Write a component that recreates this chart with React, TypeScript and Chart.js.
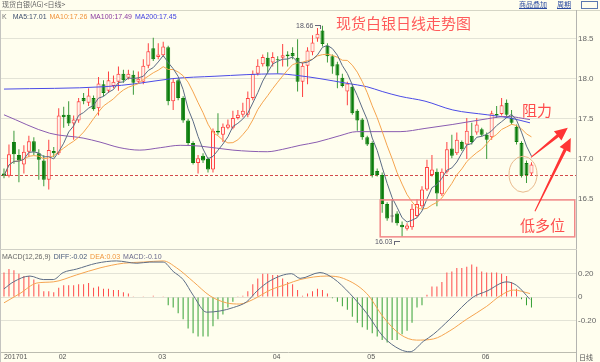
import React, { useEffect, useRef } from "react";
import { Chart, registerables } from "chart.js";

Chart.register(...registerables);

// ---------------- data (daily candles, spot silver) ----------------
const opens = [16.82,16.79,17.21,17.05,16.93,17.09,17.22,17.07,16.98,16.74,
 17.10,17.07,17.55,17.55,17.44,17.48,17.76,17.70,17.76,17.63,
 17.93,17.85,17.91,17.96,18.06,18.01,18.05,17.96,17.96,18.16,
 18.38,18.27,18.29,18.39,17.72,17.98,17.76,17.48,17.20,16.95,
 17.04,17.00,16.87,17.35,17.30,17.39,17.39,17.51,17.55,17.55,
 17.76,18.06,18.18,18.26,18.20,18.24,18.26,18.30,18.32,18.26,
 17.96,18.16,18.33,18.50,18.60,18.41,18.28,18.18,18.01,17.84,
 17.90,17.60,17.49,17.27,17.20,16.85,16.80,16.44,16.29,16.32,
 16.18,16.13,16.15,16.29,16.41,16.62,16.80,16.84,16.56,16.84,
 17.13,17.07,17.21,17.18,17.29,17.33,17.37,17.30,17.27,17.56,
 17.56,17.70,17.51,17.40,17.20,16.95,16.82];
const highs = [16.88,17.18,17.35,17.12,17.17,17.29,17.27,17.12,17.05,17.24,
 17.15,17.63,17.65,17.72,17.54,17.76,17.82,17.88,17.79,18.02,
 17.98,18.09,18.04,18.15,18.11,18.11,18.10,18.09,18.24,18.44,
 18.51,18.44,18.46,18.41,18.00,18.00,17.78,17.50,17.22,17.05,
 17.07,17.02,17.38,17.57,17.44,17.49,17.60,17.61,17.70,17.84,
 18.10,18.24,18.30,18.33,18.33,18.28,18.43,18.34,18.39,18.49,
 18.20,18.39,18.54,18.63,18.66,18.44,18.30,18.21,18.06,17.96,
 17.93,17.62,17.51,17.29,17.22,16.88,16.83,16.46,16.50,16.35,
 16.22,16.20,16.44,16.50,16.66,16.99,17.05,16.88,16.88,17.21,
 17.30,17.33,17.23,17.51,17.45,17.51,17.39,17.33,17.60,17.66,
 17.76,17.74,17.61,17.43,17.22,16.98,16.96];
const lows = [16.76,16.77,16.94,16.71,16.82,17.02,17.05,16.74,16.66,16.62,
 17.02,17.05,17.39,17.41,17.24,17.45,17.68,17.66,17.60,17.54,
 17.78,17.82,17.88,17.85,17.95,17.99,17.80,17.94,17.93,18.13,
 18.22,18.24,18.27,17.67,17.61,17.73,17.45,17.17,16.93,16.82,
 16.95,16.83,16.83,17.30,17.21,17.37,17.37,17.49,17.52,17.52,
 17.73,18.04,18.15,18.06,18.15,18.06,18.15,18.15,18.24,17.84,
 17.77,17.93,18.29,18.46,18.40,18.20,18.06,17.88,17.89,17.67,
 17.55,17.35,17.24,17.16,16.77,16.78,16.33,16.23,16.21,16.17,
 16.03,16.11,16.12,16.27,16.39,16.60,16.78,16.41,16.54,16.82,
 17.01,17.05,17.10,17.00,17.18,17.30,17.28,17.00,17.24,17.51,
 17.54,17.52,17.43,17.18,16.77,16.70,16.79];
const closes = [16.79,17.06,17.06,16.98,17.09,17.22,17.09,16.99,16.74,17.11,
 17.07,17.54,17.52,17.44,17.49,17.72,17.72,17.79,17.62,17.94,
 17.82,17.98,17.96,18.06,17.98,18.06,17.95,18.00,18.16,18.34,
 18.24,18.30,18.40,17.72,17.96,17.76,17.48,17.20,16.95,17.01,
 16.98,16.87,17.35,17.33,17.40,17.43,17.51,17.55,17.60,17.76,
 18.06,18.16,18.27,18.15,18.27,18.23,18.29,18.28,18.28,17.96,
 18.16,18.35,18.45,18.56,18.43,18.28,18.15,18.04,17.91,17.94,
 17.57,17.48,17.27,17.18,16.80,16.80,16.44,16.26,16.29,16.20,
 16.15,16.17,16.38,16.44,16.62,16.90,16.87,16.57,16.84,17.12,
 17.04,17.24,17.12,17.35,17.21,17.43,17.30,17.24,17.57,17.54,
 17.67,17.55,17.45,17.21,16.79,16.80,16.93];

// long moving averages (candle index, value)
const ma100Index = [0, 9.2, 15.9, 19.3, 23.3, 27.3, 31.4, 35.4, 39.4, 46, 52.9, 56, 59.5, 62.9, 67.5, 70.9, 79.6, 84.6, 90.2, 97.1, 101.1, 105.7];
const ma100Value = [17.55, 17.32, 17.26, 17.21, 17.14, 17.11, 17.14, 17.17, 17.16, 17.11, 17.09, 17.12, 17.17, 17.21, 17.29, 17.34, 17.34, 17.38, 17.43, 17.50, 17.53, 17.49];
const ma200Index = [0, 20.3, 26.9, 33.8, 42.4, 54.9, 58.9, 63.5, 69.1, 72.9, 76, 79.6, 84.6, 90.2, 97.1, 101.7, 105.7];
const ma200Value = [17.87, 17.90, 17.94, 18.00, 18.03, 18.06, 18.04, 18.00, 17.94, 17.90, 17.84, 17.78, 17.72, 17.61, 17.55, 17.51, 17.45];

// MACD(12,26,9)
const macdHist = [0.21,0.24,0.23,0.20,0.18,0.18,0.15,0.11,0.05,0.05,
 0.04,0.08,0.10,0.10,0.10,0.11,0.11,0.12,0.08,0.09,
 0.07,0.07,0.06,0.06,0.04,0.03,0.002,-0.005,0.002,0.005,
 0.01,0.005,0.003,-0.07,-0.09,-0.14,-0.19,-0.27,-0.31,-0.34,
 -0.34,-0.34,-0.25,-0.19,-0.15,-0.09,-0.04,0.002,0.01,0.05,
 0.11,0.16,0.20,0.20,0.19,0.19,0.16,0.13,0.11,0.06,
 0.01,0.03,0.05,0.07,0.06,0.03,-0.01,-0.04,-0.08,-0.11,
 -0.17,-0.22,-0.26,-0.28,-0.31,-0.34,-0.37,-0.39,-0.37,-0.37,
 -0.32,-0.29,-0.22,-0.09,-0.07,0.02,0.09,0.09,0.13,0.21,
 0.22,0.25,0.25,0.26,0.28,0.26,0.22,0.21,0.21,0.21,
 0.20,0.18,0.13,0.07,-0.02,-0.07,-0.09];
const diffIndex = [0, 1.9, 5.2, 7.9, 9.9, 11.9, 14.6, 18.6, 22.6, 26.7, 29.3, 32.0, 34.0, 36.0, 38.1, 40.7, 43.4, 46.1, 48.8, 50.8, 53.5, 57.8, 59.5, 63.5, 66.2, 69.5, 72.9, 76.2, 79.6, 81.6, 84.3, 86.3, 89.6, 94.3, 97.0, 101.0, 103.0, 105.7];
const diffValue = [0.07, 0.13, 0.18, 0.15, 0.15, 0.21, 0.24, 0.29, 0.31, 0.29, 0.30, 0.30, 0.22, 0.15, 0.01, -0.13, -0.12, -0.09, -0.04, 0.05, 0.14, 0.20, 0.16, 0.21, 0.16, 0.03, -0.14, -0.34, -0.45, -0.47, -0.38, -0.32, -0.19, 0.00, 0.05, 0.13, 0.10, -0.02];
const deaIndex = [0, 3.2, 6.6, 9.9, 14.6, 19.3, 24.0, 28.0, 32.0, 34.7, 38.1, 41.4, 44.7, 47.4, 50.1, 53.5, 56.8, 59.5, 64.9, 68.2, 72.9, 76.2, 79.6, 82.9, 86.3, 89.6, 93.0, 97.0, 99.7, 102.4, 105.7];
const deaValue = [-0.05, 0.03, 0.12, 0.13, 0.19, 0.25, 0.29, 0.30, 0.31, 0.25, 0.13, 0.01, -0.05, -0.06, -0.02, 0.06, 0.11, 0.15, 0.18, 0.16, 0.03, -0.17, -0.32, -0.37, -0.36, -0.29, -0.19, -0.08, 0.01, 0.06, 0.03];

// axis ticks
const monthTickIndex = [0, 11, 31, 54, 73, 96];
const monthTickLabels = ["201701", "02", "03", "04", "05", "06"];
const priceTicks = [16.5, 17, 17.5, 18, 18.5];
const macdTicks = [-0.2, 0, 0.2];

// annotation levels (data space)
const supportLevel = 16.8;
const zoneBox = { x0: 75.6, x1: 114.7, low: 16.03, high: 16.49 };
const circleCenter = { x: 104.3, y: 16.81 };
const arrowList = [
  { x0: 105.9, y0: 17.02, x1: 113.3, y1: 17.39 },
  { x0: 106.7, y0: 16.35, x1: 113.9, y1: 17.26 },
];

// ---------------- styles ----------------
const BG = "#fffeee";
const GRID = "#e3e3d6";
const UP = "#ff4040";
const UP_FILL = "#fff3ea";
const DOWN = "#0b7d0b";
const DOWN_WICK = "#3a9a3a";
const DOJI = "#444444";
const C_MA5 = "#5b6b84";
const C_MA10 = "#f5a44e";
const C_MA100 = "#8a5cb0";
const C_MA200 = "#4b4be6";
const LATIN = '"Liberation Sans", Arial, sans-serif';
const CJK = '"Noto Sans CJK SC", "Liberation Sans", sans-serif';
const X_MIN = -0.8;
const X_MAX = 114.95;

const idx = closes.map((_, i) => i);
function sma(period: number) {
  return closes.map((_, i) => {
    const w = closes.slice(Math.max(0, i - period + 1), i + 1);
    return w.reduce((a, b) => a + b, 0) / w.length;
  });
}
const ma5 = sma(5);
const ma10 = sma(10);

function drawArrow(ctx: CanvasRenderingContext2D, x0: number, y0: number, x1: number, y1: number) {
  const len = Math.hypot(x1 - x0, y1 - y0);
  const ux = (x1 - x0) / len, uy = (y1 - y0) / len;
  const nx = -uy, ny = ux;
  const head = 13, hw = 6;
  const bx = x1 - ux * head, by = y1 - uy * head;
  ctx.beginPath();
  ctx.moveTo(x0 + nx * 0.5, y0 + ny * 0.5);
  ctx.lineTo(bx + nx * 1.6, by + ny * 1.6);
  ctx.lineTo(bx + nx * hw, by + ny * hw);
  ctx.lineTo(x1, y1);
  ctx.lineTo(bx - nx * hw, by - ny * hw);
  ctx.lineTo(bx - nx * 1.6, by - ny * 1.6);
  ctx.lineTo(x0 - nx * 0.5, y0 - ny * 0.5);
  ctx.closePath();
  ctx.fill();
}

const annotationPlugin = {
  id: "annotations",
  beforeDatasetsDraw(chart: any) {
    const { ctx, chartArea, scales } = chart;
    const yy = Math.round(scales.y.getPixelForValue(supportLevel)) + 0.5;
    ctx.save();
    ctx.strokeStyle = "#d24b4b";
    ctx.lineWidth = 1;
    ctx.setLineDash([3, 2]);
    ctx.beginPath();
    ctx.moveTo(chartArea.left, yy);
    ctx.lineTo(chartArea.right, yy);
    ctx.stroke();
    ctx.restore();
  },
  afterDatasetsDraw(chart: any) {
    const { ctx, scales } = chart;
    const x = scales.x, y = scales.y;
    ctx.save();
    const bx0 = x.getPixelForValue(zoneBox.x0), bx1 = x.getPixelForValue(zoneBox.x1);
    const by0 = y.getPixelForValue(zoneBox.high), by1 = y.getPixelForValue(zoneBox.low);
    ctx.strokeStyle = "#f28888";
    ctx.lineWidth = 1.5;
    ctx.strokeRect(bx0, by0, bx1 - bx0, by1 - by0);
    ctx.strokeStyle = "#e8b98c";
    ctx.lineWidth = 1;
    ctx.beginPath();
    ctx.ellipse(x.getPixelForValue(circleCenter.x), y.getPixelForValue(circleCenter.y), 14, 18, 0, 0, Math.PI * 2);
    ctx.stroke();
    ctx.fillStyle = "#ff3434";
    arrowList.forEach((a) => {
      drawArrow(ctx, x.getPixelForValue(a.x0), y.getPixelForValue(a.y0), x.getPixelForValue(a.x1), y.getPixelForValue(a.y1));
    });
    ctx.restore();
  },
};

export default function App() {
  const mainRef = useRef<HTMLCanvasElement>(null);
  const macdRef = useRef<HTMLCanvasElement>(null);

  useEffect(() => {
    document.body.style.margin = "0";
    const up = (i: number) => closes[i] > opens[i];
    const down = (i: number) => closes[i] < opens[i];

    const main = new Chart(mainRef.current as HTMLCanvasElement, {
      type: "bar",
      data: {
        datasets: [
          { type: "line", data: idx.map((i) => ({ x: i, y: ma5[i] })), borderColor: C_MA5, borderWidth: 1, pointRadius: 0, tension: 0, order: 0 } as any,
          { type: "line", data: idx.map((i) => ({ x: i, y: ma10[i] })), borderColor: C_MA10, borderWidth: 1, pointRadius: 0, tension: 0, order: 0 } as any,
          { type: "line", data: ma100Index.map((v, k) => ({ x: v, y: ma100Value[k] })), borderColor: C_MA100, borderWidth: 1, pointRadius: 0, cubicInterpolationMode: "monotone", order: 0 } as any,
          { type: "line", data: ma200Index.map((v, k) => ({ x: v, y: ma200Value[k] })), borderColor: C_MA200, borderWidth: 1, pointRadius: 0, cubicInterpolationMode: "monotone", order: 0 } as any,
          {
            type: "bar",
            data: idx.map((i) => ({ x: i, y: opens[i] === closes[i] ? [opens[i] - 0.005, opens[i] + 0.005] : [opens[i], closes[i]] })),
            barThickness: 4,
            borderWidth: 1,
            borderSkipped: false,
            inflateAmount: 0,
            grouped: false,
            backgroundColor: idx.map((i) => (up(i) ? UP_FILL : down(i) ? DOWN : DOJI)),
            borderColor: idx.map((i) => (up(i) ? UP : down(i) ? DOWN : DOJI)),
            order: 1,
          } as any,
          {
            type: "bar",
            data: idx.map((i) => ({ x: i, y: [lows[i], highs[i]] })),
            barThickness: 1,
            borderWidth: 0,
            inflateAmount: 0,
            grouped: false,
            backgroundColor: idx.map((i) => (up(i) ? UP : down(i) ? DOWN_WICK : DOJI)),
            order: 2,
          } as any,
        ],
      },
      options: {
        responsive: false,
        animation: false,
        devicePixelRatio: 1,
        events: [],
        layout: { padding: { top: 14, bottom: 2, left: 0, right: 0 } },
        plugins: { legend: { display: false }, tooltip: { enabled: false } },
        scales: {
          x: { type: "linear", min: X_MIN, max: X_MAX, display: false, offset: false },
          y: {
            position: "right",
            min: 15.951,
            max: 18.805,
            afterBuildTicks: (s: any) => { s.ticks = priceTicks.map((v) => ({ value: v })); },
            afterFit: (s: any) => { s.width = 24; },
            grid: { color: GRID, drawTicks: false },
            border: { display: false },
            ticks: { padding: 2, color: "#666", font: { size: 8, family: LATIN }, callback: (v: any) => Number(v).toFixed(1) },
          },
        },
      } as any,
      plugins: [annotationPlugin],
    });

    const macd = new Chart(macdRef.current as HTMLCanvasElement, {
      type: "bar",
      data: {
        datasets: [
          { type: "line", data: diffIndex.map((v, k) => ({ x: v, y: diffValue[k] })), borderColor: "#5d6d86", borderWidth: 1, pointRadius: 0, cubicInterpolationMode: "monotone", clip: false, order: 0 } as any,
          { type: "line", data: deaIndex.map((v, k) => ({ x: v, y: deaValue[k] })), borderColor: "#f5a450", borderWidth: 1, pointRadius: 0, cubicInterpolationMode: "monotone", clip: false, order: 0 } as any,
          {
            type: "bar",
            data: idx.map((i) => ({ x: i, y: macdHist[i] })),
            barThickness: 1,
            borderWidth: 0,
            inflateAmount: 0,
            grouped: false,
            backgroundColor: idx.map((i) => (macdHist[i] >= 0 ? "#ff4a4a" : "#33a033")),
            order: 1,
          } as any,
        ],
      },
      options: {
        responsive: false,
        animation: false,
        devicePixelRatio: 1,
        events: [],
        layout: { padding: { top: 8, bottom: 0, left: 0, right: 0 } },
        plugins: { legend: { display: false }, tooltip: { enabled: false } },
        scales: {
          x: {
            type: "linear",
            min: X_MIN,
            max: X_MAX,
            offset: false,
            position: "bottom",
            afterBuildTicks: (s: any) => { s.ticks = monthTickIndex.map((v) => ({ value: v })); },
            afterFit: (s: any) => { s.height = 10; },
            grid: { display: false, drawTicks: false },
            border: { display: true, color: "#bcbcb0" },
            ticks: { autoSkip: false, maxRotation: 0, align: "start", padding: 1, color: "#555", font: { size: 7, family: LATIN }, callback: (_v: any, k: number) => monthTickLabels[k] },
          },
          y: {
            position: "right",
            min: -0.472,
            max: 0.335,
            afterBuildTicks: (s: any) => { s.ticks = macdTicks.map((v) => ({ value: v })); },
            afterFit: (s: any) => { s.width = 24; },
            grid: { color: GRID, drawTicks: false },
            border: { display: false },
            ticks: { padding: 2, color: "#666", font: { size: 8, family: LATIN }, callback: (v: any) => (Math.abs(Number(v)) < 1e-9 ? "0" : Number(v).toFixed(2)) },
          },
        },
      } as any,
    });

    return () => {
      main.destroy();
      macd.destroy();
    };
  }, []);

  const abs = (o: React.CSSProperties): React.CSSProperties => ({ position: "absolute", whiteSpace: "nowrap", lineHeight: 1, ...o });
  const row = (o: React.CSSProperties): React.CSSProperties => ({ ...abs(o), display: "flex", gap: 3, fontSize: 7 });

  return (
    <div style={{ position: "fixed", left: 0, top: 0, width: 600, height: 362, background: BG, overflow: "hidden", fontFamily: LATIN }}>
      <canvas ref={mainRef} width={600} height={250} style={{ position: "absolute", left: 0, top: 0, width: 600, height: 250 }} />
      <canvas ref={macdRef} width={600} height={112} style={{ position: "absolute", left: 0, top: 250, width: 600, height: 112 }} />

      {/* frame lines */}
      <div style={abs({ left: 0, top: 10, width: 600, height: 1, background: "#d6d6c6" })} />
      <div style={abs({ left: 0, top: 10, width: 1, height: 352, background: "#c4c4c0" })} />
      <div style={abs({ left: 576, top: 10, width: 1, height: 352, background: "#b4b4b0" })} />
      <div style={abs({ left: 0, top: 249, width: 577, height: 1, background: "#d0d0c6" })} />

      {/* header */}
      <div style={abs({ left: 2, top: 1, fontSize: 7, color: "#666", fontFamily: CJK })}>现货白银(AG)&lt;日线&gt;</div>
      <div style={abs({ left: 519, top: 1, fontSize: 7, color: "#2a4aa0", fontFamily: CJK, textDecoration: "underline" })}>商品叠加</div>
      <div style={abs({ left: 557, top: 1, fontSize: 7, color: "#2a4aa0", fontFamily: CJK, textDecoration: "underline" })}>周期</div>
      <div style={abs({ left: 581, top: 1, width: 15, height: 6, border: "1px solid #5a78b0" })} />

      {/* main legend */}
      <div style={row({ left: 2, top: 13 })}>
        <span style={{ color: "#777", marginRight: 3 }}>K</span>
        <span style={{ color: "#3e4e6e" }}>MA5:17.01</span>
        <span style={{ color: "#f0923a" }}>MA10:17.26</span>
        <span style={{ color: "#8a3aa0" }}>MA100:17.49</span>
        <span style={{ color: "#3c3ce0" }}>MA200:17.45</span>
      </div>

      {/* title & annotations */}
      <div style={abs({ left: 336, top: 15, fontSize: 15, color: "#ff5a5a", fontFamily: CJK })}>现货白银日线走势图</div>
      <div style={abs({ left: 522, top: 102, fontSize: 15, color: "#ff4d4d", fontFamily: CJK })}>阻力</div>
      <div style={abs({ left: 520, top: 217, fontSize: 15, color: "#ff4d4d", fontFamily: CJK })}>低多位</div>

      {/* extreme markers */}
      <div style={abs({ left: 296, top: 22, fontSize: 7, color: "#556" })}>18.66</div>
      <div style={abs({ left: 315, top: 25, width: 5, height: 3, borderTop: "1px solid #667", borderRight: "1px solid #667" })} />
      <div style={abs({ left: 375, top: 238, fontSize: 7, color: "#556" })}>16.03</div>
      <div style={abs({ left: 394, top: 241, width: 5, height: 3, borderTop: "1px solid #667", borderLeft: "1px solid #667" })} />

      {/* MACD legend */}
      <div style={row({ left: 2, top: 253 })}>
        <span style={{ color: "#666" }}>MACD(12,26,9)</span>
        <span style={{ color: "#46587a" }}>DIFF:-0.02</span>
        <span style={{ color: "#f0963c" }}>DEA:0.03</span>
        <span style={{ color: "#6a6a8c" }}>MACD:-0.10</span>
      </div>

      <div style={abs({ left: 579, top: 354, fontSize: 7, color: "#555", fontFamily: CJK })}>日线</div>
    </div>
  );
}
